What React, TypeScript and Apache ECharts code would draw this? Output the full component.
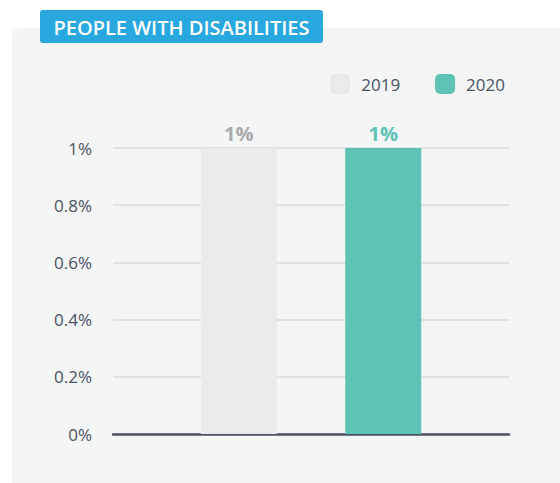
import React, { useEffect, useRef } from "react";
import * as echarts from "echarts";

const categories = ["People with disabilities"];
const seriesNames = ["2019", "2020"];
const values2019 = [1];
const values2020 = [1];
const yTicks = [0, 0.2, 0.4, 0.6, 0.8, 1];

const FONT = "'Open Sans', 'Noto Sans', sans-serif";

export default function App() {
  const ref = useRef<HTMLDivElement>(null);
  useEffect(() => {
    if (!ref.current) return;
    const chart = echarts.init(ref.current, null, { renderer: "svg" });
    chart.setOption({
      animation: false,
      backgroundColor: "#ffffff",
      graphic: [
        {
          type: "rect",
          shape: { x: 12, y: 28, width: 600, height: 500, r: 8 },
          style: { fill: "#f4f5f5" },
          z: -10,
        },
        {
          type: "rect",
          shape: { x: 40, y: 10, width: 283, height: 33, r: 3 },
          style: { fill: "#29a7df" },
          z: 10,
        },
        {
          type: "text",
          x: 181.5,
          y: 27,
          style: {
            text: "PEOPLE WITH DISABILITIES",
            fill: "#ffffff",
            font: `600 20px ${FONT}`,
            textAlign: "center",
            textVerticalAlign: "middle",
          },
          z: 11,
        },
      ],
      legend: {
        right: 50,
        top: 69,
        itemWidth: 20,
        itemHeight: 20,
        itemGap: 35,
        icon: "roundRect",
        data: seriesNames,
        textStyle: { color: "#4a5263", fontSize: 17, fontFamily: FONT, padding: [0, 0, 0, 6] },
      },
      grid: { left: 113, right: 51, top: 148, bottom: 49, containLabel: false },
      xAxis: {
        type: "category",
        data: categories,
        axisLine: { show: true, lineStyle: { color: "#4a5263", width: 2.5 } },
        axisTick: { show: false },
        axisLabel: { show: false },
      },
      yAxis: {
        type: "value",
        min: yTicks[0],
        max: yTicks[yTicks.length - 1],
        interval: 0.2,
        axisLine: { show: false },
        axisTick: { show: false },
        splitLine: { lineStyle: { color: "#dfe1e3", width: 2 } },
        axisLabel: {
          formatter: (v: number) => `${Math.round(v * 10) / 10}%`,
          color: "#4a5263",
          fontSize: 17,
          fontFamily: FONT,
          margin: 21,
        },
      },
      series: [
        {
          name: seriesNames[0],
          type: "bar",
          data: values2019,
          barWidth: 76,
          barGap: "90%",
          itemStyle: { color: "#e9eaec" },
          label: {
            show: true,
            position: "top",
            distance: 5,
            formatter: (p: any) => `${p.value}%`,
            color: "#a9abad",
            fontSize: 20,
            fontWeight: "bold",
            fontFamily: FONT,
          },
        },
        {
          name: seriesNames[1],
          type: "bar",
          data: values2020,
          barWidth: 76,
          itemStyle: { color: "#5ec2b5" },
          label: {
            show: true,
            position: "top",
            distance: 5,
            formatter: (p: any) => `${p.value}%`,
            color: "#5ec2b5",
            fontSize: 20,
            fontWeight: "bold",
            fontFamily: FONT,
          },
        },
      ],
    });
    return () => chart.dispose();
  }, []);
  return (
    <div
      ref={ref}
      style={{ position: "fixed", left: 0, top: 0, width: 560, height: 483 }}
    />
  );
}
